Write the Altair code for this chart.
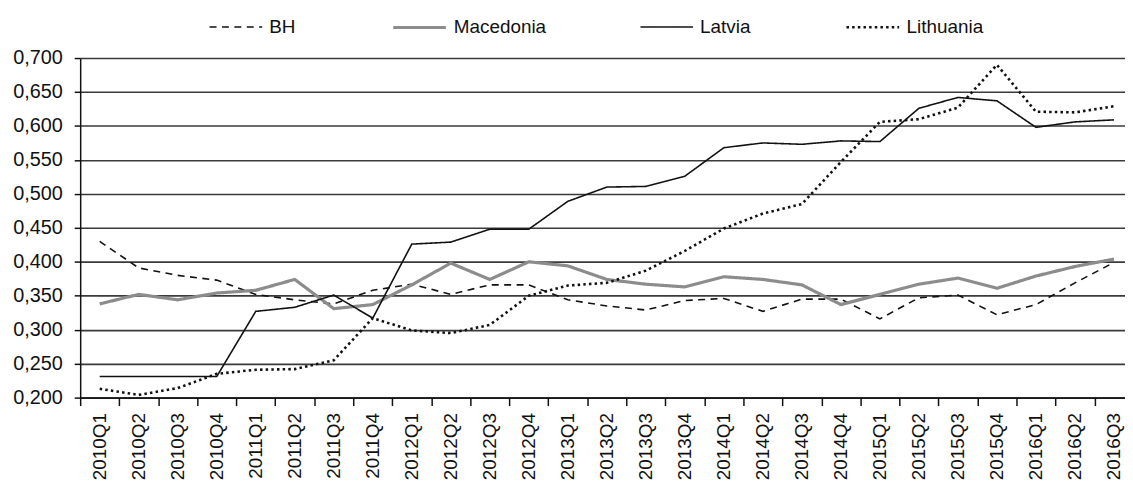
import altair as alt
import pandas as pd

quarters = ["2010Q1", "2010Q2", "2010Q3", "2010Q4",
            "2011Q1", "2011Q2", "2011Q3", "2011Q4",
            "2012Q1", "2012Q2", "2012Q3", "2012Q4",
            "2013Q1", "2013Q2", "2013Q3", "2013Q4",
            "2014Q1", "2014Q2", "2014Q3", "2014Q4",
            "2015Q1", "2015Q2", "2015Q3", "2015Q4",
            "2016Q1", "2016Q2", "2016Q3"]

bh = [0.430, 0.391, 0.380, 0.373, 0.352, 0.344, 0.338, 0.358, 0.367, 0.352,
      0.366, 0.366, 0.344, 0.335, 0.329, 0.343, 0.346, 0.327, 0.345, 0.345,
      0.316, 0.347, 0.351, 0.322, 0.337, 0.369, 0.399]
macedonia = [0.338, 0.352, 0.344, 0.354, 0.358, 0.374, 0.331, 0.337, 0.366, 0.398,
             0.374, 0.400, 0.394, 0.374, 0.367, 0.363, 0.378, 0.374, 0.366, 0.337,
             0.352, 0.367, 0.376, 0.361, 0.379, 0.393, 0.404]
latvia = [0.231, 0.231, 0.231, 0.231, 0.327, 0.333, 0.351, 0.317, 0.426, 0.429,
          0.448, 0.448, 0.489, 0.510, 0.511, 0.526, 0.568, 0.575, 0.573, 0.578,
          0.577, 0.626, 0.642, 0.637, 0.598, 0.606, 0.609]
lithuania = [0.213, 0.204, 0.214, 0.235, 0.241, 0.242, 0.255, 0.317, 0.299, 0.295,
             0.307, 0.350, 0.365, 0.369, 0.387, 0.416, 0.449, 0.471, 0.485, 0.547,
             0.606, 0.610, 0.627, 0.690, 0.621, 0.620, 0.629]

series_names = ["BH", "Macedonia", "Latvia", "Lithuania"]
series_values = [bh, macedonia, latvia, lithuania]
y_ticks = [0.20, 0.25, 0.30, 0.35, 0.40, 0.45, 0.50, 0.55, 0.60, 0.65, 0.70]

rows = []
for name, vals in zip(series_names, series_values):
    for q, v in zip(quarters, vals):
        rows.append({"quarter": q, "series": name, "value": v})
df = pd.DataFrame(rows)

FONT = "Liberation Sans"
STEP = 39.29

chart = alt.Chart(df).mark_line(strokeCap="butt").encode(
    x=alt.X("quarter:N",
            scale=alt.Scale(type="band", domain=quarters, range=[0, STEP * len(quarters)],
                            paddingInner=0, paddingOuter=0),
            axis=alt.Axis(title=None, labelAngle=270, labelAlign="right",
                          labelBaseline="middle", labelPadding=7, tickBand="extent",
                          tickSize=8, tickWidth=1.5, tickColor="#111", domainColor="#111",
                          domainWidth=1.5, grid=False, labelFontSize=19,
                          labelColor="#111", labelFont=FONT)),
    y=alt.Y("value:Q",
            scale=alt.Scale(domain=[0.2, 0.7], nice=False, zero=False),
            axis=alt.Axis(title=None, values=y_ticks,
                          labelExpr="replace(format(datum.value, '.3f'), '.', ',')",
                          tickSize=6, tickWidth=1.5, tickColor="#111", domainColor="#111",
                          domainWidth=1.5, labelPadding=12, grid=True, gridColor="#3a3a3a",
                          gridWidth=1.6, labelFontSize=20, labelColor="#111",
                          labelFont=FONT)),
    color=alt.Color("series:N",
                    scale=alt.Scale(domain=series_names,
                                    range=["#111111", "#8c8c8c", "#111111", "#111111"]),
                    legend=alt.Legend(title=None)),
    strokeDash=alt.StrokeDash("series:N",
                              scale=alt.Scale(type="ordinal", domain=series_names,
                                              range=[[7, 5.5], [1, 0], [1, 0], [2.5, 3.2]]),
                              legend=alt.Legend(title=None)),
    strokeWidth=alt.StrokeWidth("series:N",
                                scale=alt.Scale(type="ordinal", domain=series_names,
                                                range=[1.6, 3.2, 1.6, 2.6]),
                                legend=alt.Legend(title=None)),
).properties(
    width=1125 - 72.7,
    height=342,
    autosize=alt.AutoSizeParams(type="none"),
    padding={"left": 72.7, "top": 48.7, "right": 0, "bottom": 85.3},
).configure(
    font=FONT
).configure_view(
    stroke=None
).configure_legend(
    orient="none",
    legendX=129.3,
    legendY=-59.5,
    direction="horizontal",
    symbolType="stroke",
    symbolSize=2809,
    labelFontSize=19,
    labelFont=FONT,
    labelColor="#111",
    labelOffset=6,
    columnPadding=91,
    padding=0,
)

chart.save("out.html", embed_options={"renderer": "svg", "actions": False})
